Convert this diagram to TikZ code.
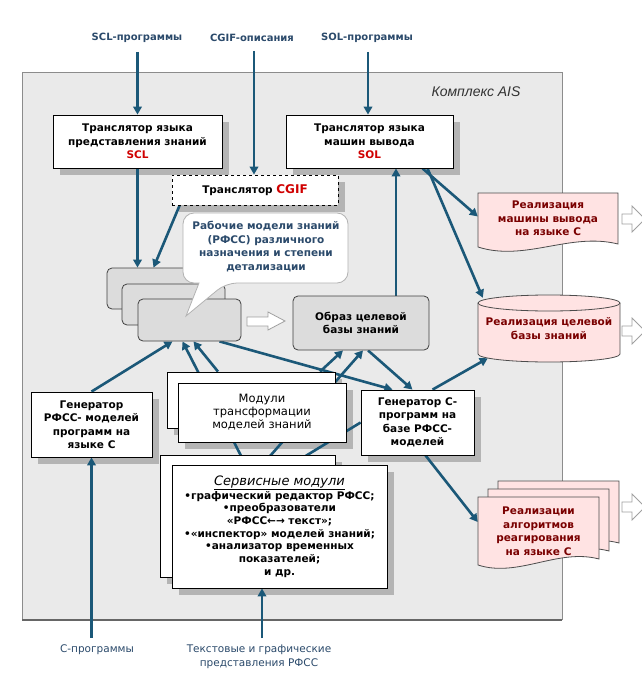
\documentclass[tikz,border=0pt]{standalone}
\usepackage{fontspec}
\setmainfont{DejaVu Sans}
\newfontfamily\arialfont{Liberation Sans}
\usetikzlibrary{arrows.meta,calc}
\pgfdeclarelayer{bglayer}
\pgfdeclarelayer{shadowlayer}
\pgfdeclarelayer{connlayer}
\pgfsetlayers{bglayer,shadowlayer,connlayer,main}
\definecolor{arrowblue}{HTML}{1B5878}
\definecolor{lblblue}{HTML}{2B4A6B}
\definecolor{panelgray}{HTML}{EAEAEA}
\definecolor{boxgray}{HTML}{DCDCDC}
\definecolor{pinkfill}{HTML}{FFE3E3}
\definecolor{darkred}{HTML}{7A0000}
\definecolor{redtxt}{HTML}{D00000}
\definecolor{shadowgray}{HTML}{B4B4B4}
\definecolor{hollowgray}{HTML}{A0A0A0}
\newcommand\mybold{\bfseries\fontsize{10.5}{13.5}\selectfont}
\begin{document}
\begin{tikzpicture}[x=1pt,y=-1pt,
  whitebox/.style={draw=black,fill=white,line width=0.8pt,inner sep=0pt,align=center,font=\mybold},
  graybox/.style={draw=black!75,fill=boxgray,rounded corners=5pt,line width=0.8pt,inner sep=0pt,align=center,font=\mybold},
  arr/.style={draw=arrowblue,line width=2.6pt,-{Triangle[length=8pt,width=8.5pt]}},
  plainline/.style={draw=arrowblue,line width=2.6pt},
  lbl/.style={font=\bfseries\fontsize{10}{12}\selectfont,text=lblblue,inner sep=1pt},
  lblr/.style={font=\fontsize{10.5}{13.5}\selectfont,text=lblblue,align=center,inner sep=1pt},
  pinkshape/.style={draw=black!70,fill=pinkfill,line width=0.8pt},
  pinktext/.style={font=\mybold,text=darkred,align=center,inner sep=0pt},
  hollow/.style={draw=hollowgray,fill=white,line width=0.8pt},
  callout/.style={draw=black!30,fill=white,line width=0.8pt},
  shadowfill/.style={fill=shadowgray}
]
\useasboundingbox (0,0) rectangle (642,680);
\begin{pgfonlayer}{bglayer}
\fill[white] (0,0) rectangle (642,680);
\fill[panelgray] (22,72) rectangle (562,620);
\draw[black!45,line width=0.8pt] (22,620) -- (22,72) -- (562,72) -- (562,620);
\draw[black!60,line width=1.2pt] (22,620) -- (562,620);
\end{pgfonlayer}

% outer labels
\node[lbl] (lblscl) at (137,38) {SCL-программы};
\node[lbl] (lblcgif) at (252,38) {CGIF-описания};
\node[lbl] (lblsol) at (367,38) {SOL-программы};
\node[lblr] (lblc) at (97,650) {С-программы};
\node[lblr] (lbltxt) at (259,657) {Текстовые и графические\\представления РФСС};
\node[font=\arialfont\itshape\fontsize{14}{16}\selectfont,text=black!80] (title) at (476,92) {Комплекс AIS};

% translators
\node[whitebox,minimum width=169pt,minimum height=53pt] (scl) at (137.5,141.5)
  {Транслятор языка\\представления знаний\\\textcolor{redtxt}{SCL}};
\node[whitebox,minimum width=167pt,minimum height=53pt] (sol) at (369.5,141.5)
  {Транслятор языка\\машин вывода\\\textcolor{redtxt}{SOL}};
\node[whitebox,dashed,minimum width=166pt,minimum height=30pt] (cgif) at (255,190)
  {Транслятор \textcolor{redtxt}{\fontsize{12}{14}\selectfont CGIF}};

% stack of working models
\node[graybox,minimum width=103pt,minimum height=41pt] (st1) at (158.5,288.5) {};
\node[graybox,minimum width=103pt,minimum height=41pt] (st2) at (173.5,304.5) {};
\node[graybox,minimum width=103pt,minimum height=42pt] (st3) at (189.5,320) {};

% callout
\draw[callout] (183,250) [rounded corners=11pt] |- (348,213) |- (226,283) [sharp corners] -- (186,316) -- (199,283) [rounded corners=11pt] -- (183,283) -- cycle;
\node[font=\mybold,text=lblblue,align=center,inner sep=0pt] (callouttext) at (266,246.5)
  {Рабочие модели знаний\\(РФСС) различного\\назначения и степени\\детализации};

% hollow arrow stack -> image
\draw[hollow] (247,317) -- (268,317) -- (268,312) -- (285,321) -- (268,330) -- (268,326) -- (247,326) -- cycle;

% image of target KB
\node[graybox,minimum width=136pt,minimum height=54pt] (obr) at (361,323)
  {Образ целевой\\базы знаний};

% generators
\node[whitebox,minimum width=113pt,minimum height=65pt] (genc) at (417.5,422.5)
  {Генератор С-\\программ на\\базе РФСС-\\моделей};
\node[whitebox,minimum width=121pt,minimum height=65pt] (genr) at (91.5,424.5)
  {Генератор\\РФСС- моделей\\программ на\\языке С};

% transformation modules
\node[whitebox,minimum width=168pt,minimum height=56pt] (mod1) at (251,400) {};
\node[whitebox,minimum width=168pt,minimum height=59pt,font=\fontsize{11.5}{13}\selectfont] (mod2) at (262,412.5)
  {Модули\\трансформации\\моделей знаний};

% service modules
\node[whitebox,minimum width=175pt,minimum height=122pt] (srv1) at (247.5,516) {};
\node[whitebox,minimum width=215pt,minimum height=123pt,font=\bfseries\fontsize{10.5}{12.7}\selectfont] (srv2) at (279.5,526.5)
  {{\mdseries\itshape\fontsize{13}{14}\selectfont\underline{Сервисные модули}}\\
   •графический редактор РФСС;\\
   •преобразователи\\
   «РФСС←→ текст»;\\
   •«инспектор» моделей знаний;\\
   •анализатор временных\\
   показателей;\\
   и др.};

% machine implementation (document)
\draw[pinkshape] (478,193) -- (618,193) -- (618,244) .. controls (570,232) and (525,262) .. (478,247) -- cycle;
\node[pinktext,minimum width=140pt,minimum height=51pt] (mach) at (548,218.5)
  {Реализация\\машины вывода\\на языке С};

% target KB (cylinder)
\draw[pinkshape] (478,303) -- (478,354) arc[start angle=180,end angle=360,x radius=71pt,y radius=8pt] -- (620,303) arc[start angle=0,end angle=180,x radius=71pt,y radius=8pt] -- cycle;
\draw[pinkshape,fill=none] (478,303) arc[start angle=180,end angle=360,x radius=71pt,y radius=8pt];
\node[pinktext,minimum width=142pt,minimum height=67pt] (db) at (549,328.5)
  {Реализация целевой\\базы знаний};

% algorithms (multi document)
\draw[pinkshape] (498,481) -- (619,481) -- (619,543) .. controls (578,532) and (538,562) .. (498,549) -- cycle;
\draw[pinkshape] (488,489) -- (609,489) -- (609,551) .. controls (568,540) and (528,570) .. (488,557) -- cycle;
\draw[pinkshape] (478,497) -- (599,497) -- (599,559) .. controls (558,548) and (518,578) .. (478,565) -- cycle;
\node[pinktext,minimum width=121pt,minimum height=68pt] (alg) at (538.5,531)
  {Реализации\\алгоритмов\\реагирования\\на языке С};

% hollow arrows to the right
\draw[hollow] (622,214) -- (632,214) -- (632,206) -- (645,219) -- (632,232) -- (632,224) -- (622,224) -- cycle;
\draw[hollow] (622,326) -- (632,326) -- (632,318) -- (645,331) -- (632,344) -- (632,336) -- (622,336) -- cycle;
\draw[hollow] (622,502) -- (632,502) -- (632,494) -- (645,507) -- (632,520) -- (632,512) -- (622,512) -- cycle;

% shadows
\begin{pgfonlayer}{shadowlayer}
\foreach \nd in {scl,sol,cgif,genc,genr,mod1,mod2,srv1,srv2}
  \fill[shadowfill] ($(\nd.south west)+(7,7)$) rectangle ($(\nd.north east)+(7,7)$);
\end{pgfonlayer}

% connectors
\begin{pgfonlayer}{connlayer}
\coordinate (sclin) at ($(scl.north |- lblscl.south)+(0,8)$);
\coordinate (cgifin) at ($(cgif.north |- lblcgif.south)+(-1,8)$);
\coordinate (solin) at ($(sol.north |- lblsol.south)+(-1.5,8)$);
\draw[arr] (sclin) -- (scl.north);
\draw[arr] (cgifin) -- (cgifin |- cgif.north);
\draw[arr] (solin) -- (solin |- sol.north);
\draw[arr] (scl.south) -- (scl.south |- st1.north);
\draw[arr] ($(cgif.south west)+(8,0)$) -- ($(st1.north)+(-5,0)$);
\coordinate (obrup) at ($(obr.north)+(35,0)$);
\draw[arr] (obrup) -- (obrup |- sol.south);
\draw[arr] ($(sol.south)+(53,0)$) -- ($(mach.west)+(0,-2)$);
\draw[arr] ($(sol.south)+(58,0)$) -- ($(db.north west)+(5,3)$);
\draw[arr] ($(obr.south)+(7,0)$) -- ($(genc.north)+(-5,0)$);
\draw[arr] ($(st3.south)+(30,0)$) -- ($(genc.north)+(-25,0)$);
\draw[arr] ($(genc.north)+(15,0)$) -- ($(db.south west)+(10,-4)$);
\draw[arr] ($(genc.south)+(8,0)$) -- ($(alg.west)+(0,-9)$);
\draw[arr] (genr.north) -- ($(st3.south)+(-17,0)$);
\draw[arr] ($(srv2.north)+(-34,0)$) -- ($(st3.south)+(-7,0)$);
\draw[arr] ($(mod1.north)+(-33,0)$) -- ($(st3.south)+(4,0)$);
\draw[arr] ($(mod1.north)+(69,0)$) -- ($(obr.south)+(-18,0)$);
\draw[arr] ($(srv2.north)+(-17,0)$) -- ($(obr.south)+(2,0)$);
\draw[plainline] ($(srv2.north)+(12,0)$) -- (genc.west);
\coordinate (cin) at ($(genr.south |- lblc.north)+(0,-6)$);
\draw[arr] (cin) -- (genr.south);
\coordinate (tin) at ($(lbltxt.north)+(3,-6)$);
\draw[arr] (tin) -- (tin |- srv2.south);
\end{pgfonlayer}
\end{tikzpicture}
\end{document}
